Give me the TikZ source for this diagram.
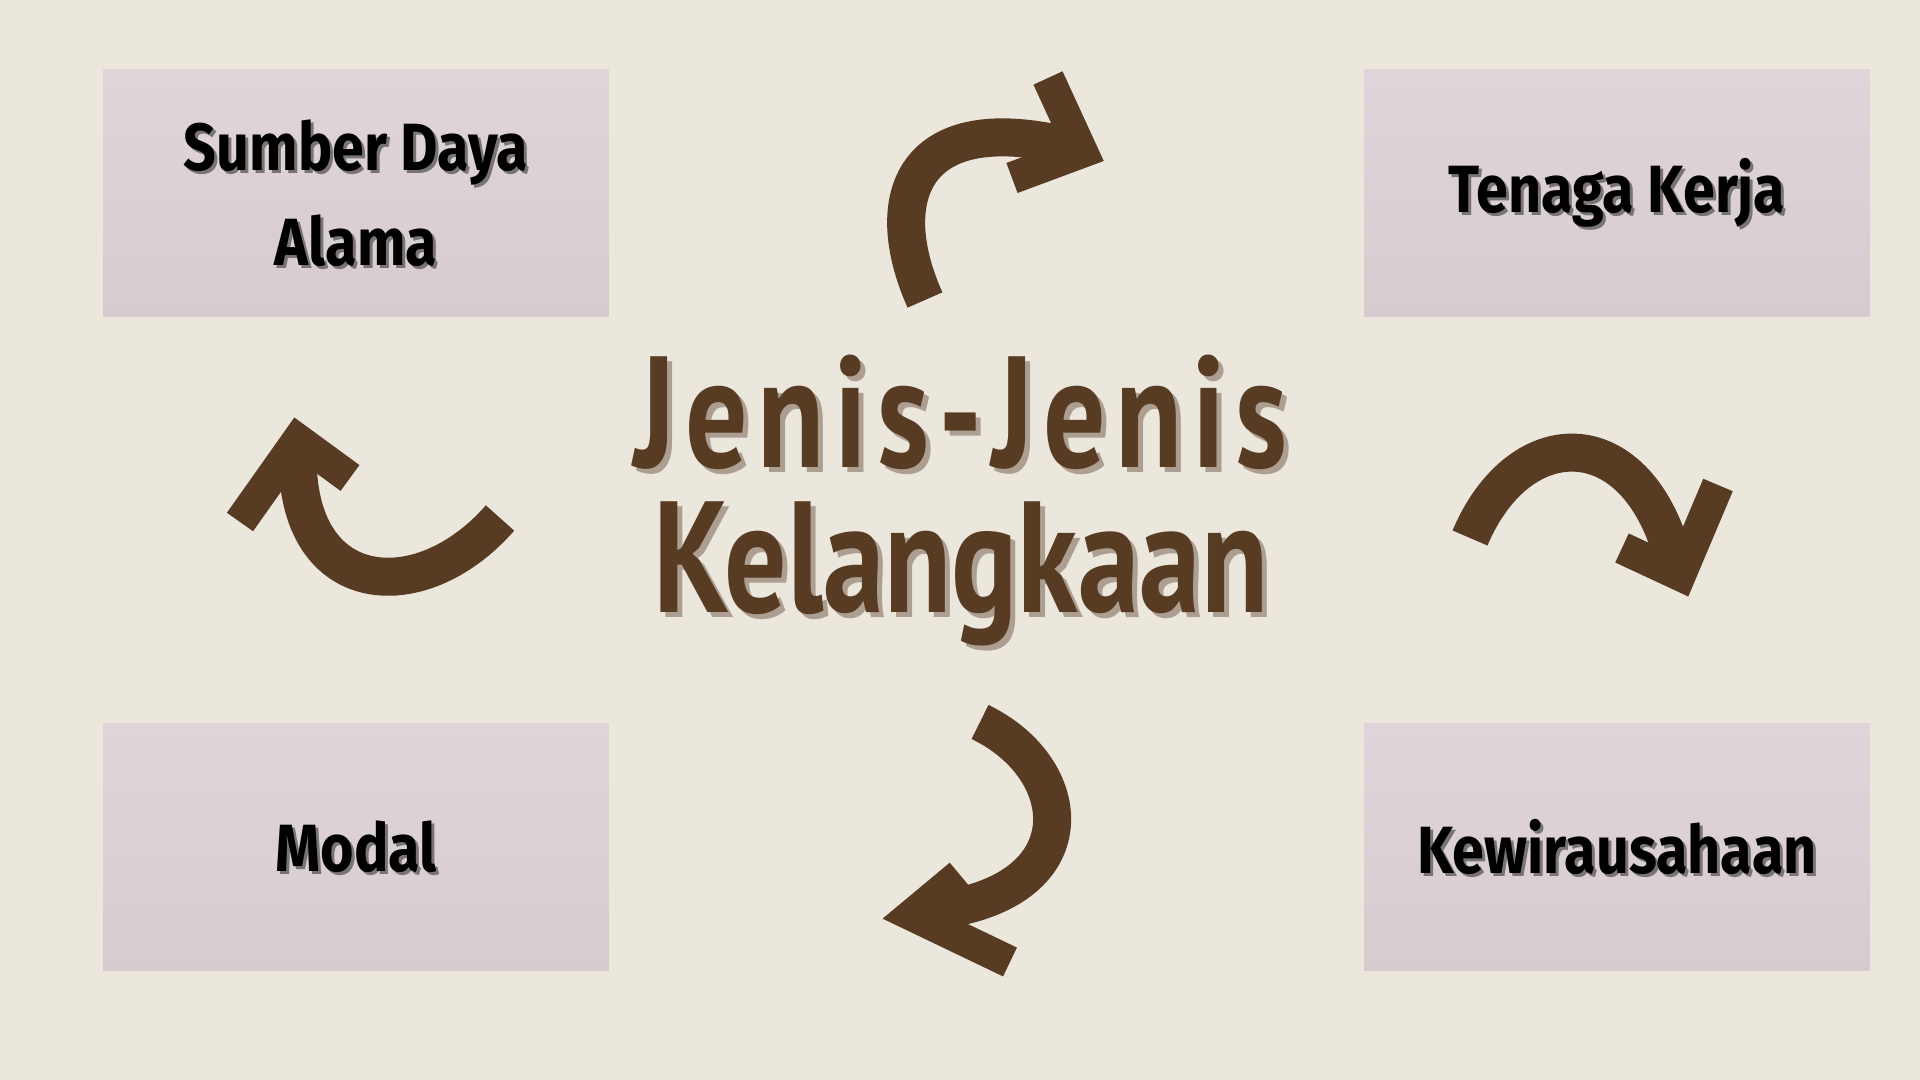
\documentclass[tikz,border=0pt]{standalone}
\usepackage{fontspec}
\newfontfamily\titlefont[FakeStretch=0.78]{PT Sans}
\newfontfamily\cardfont[FakeStretch=0.86]{Fira Sans}
\definecolor{paper}{RGB}{236,231,221}
\definecolor{cardtop}{RGB}{224,213,218}
\definecolor{cardbot}{RGB}{214,204,208}
\definecolor{brush}{RGB}{88,59,35}
\definecolor{titleshade}{RGB}{172,158,144}
\definecolor{cardshade}{RGB}{120,115,118}
% text with a drop shade behind it
\newcommand{\dropshade}[2]{\rlap{\kern0.05cm\raisebox{-0.05cm}{\textcolor{#1}{#2}}}#2}
\tikzset{
	card/.style={rectangle, minimum width=5.05cm, minimum height=2.46cm, top color=cardtop, bottom color=cardbot, draw=none},
	cardtext/.style={font=\cardfont\bfseries\fontsize{19}{27}\selectfont, align=center, text=black},
	cardshadow/.style={cardtext, text=cardshade},
	titletext/.style={font=\titlefont\bfseries\fontsize{45}{41.5}\selectfont, text=brush, align=center, anchor=base, inner sep=1pt},
	brushline/.style={draw=brush, line width=0.38cm, line cap=butt},
	brushhead/.style={draw=brush, line width=0.32cm, line join=miter, miter limit=3}
}
\begin{document}
\begin{tikzpicture}[x=0.01cm, y=-0.01cm]
\useasboundingbox[fill=paper] (0,0) rectangle (1920,1080);
% the four cards
\foreach \n/\x/\y/\t in {sda/356/193/{Sumber Daya\\Alama}, tk/1617/193/{Tenaga Kerja}, md/356/847/{Modal}, kw/1617/847/{Kewirausahaan}}
{
	\node[card] (\n) at (\x,\y) {};
	\node[cardshadow] (\n-s) at ({\x+3},{\y+3}) {\t};
	\node[cardtext] (\n-t) at (\x,\y) {\t};
}
% title (base = last line)
\node[titletext] (title) at (961,613) {{\addfontfeature{LetterSpace=6}\dropshade{titleshade}{Jenis-Jenis}}\\\dropshade{titleshade}{Kelangkaan}};
% top arrow
\draw[brushline] (925,300) .. controls (880,200) and (910,105) .. (1075,148);
\draw[brushhead] (1048,78) -- (1082,152) -- (1012,178);
% right arrow
\draw[brushline] (1470,538) .. controls (1520,420) and (1640,420) .. (1675,565);
\draw[brushhead] (1718,485) -- (1680,575) -- (1622,548);
% bottom arrow
\draw[brushline] (980,722) .. controls (1080,770) and (1090,900) .. (920,912);
\draw[brushhead] (960,875) -- (912,915) -- (1010,962);
% left arrow
\draw[brushline] (500,518) .. controls (420,610) and (290,600) .. (298,445);
\draw[brushhead] (240,522) -- (298,440) -- (350,478);
\end{tikzpicture}
\end{document}
